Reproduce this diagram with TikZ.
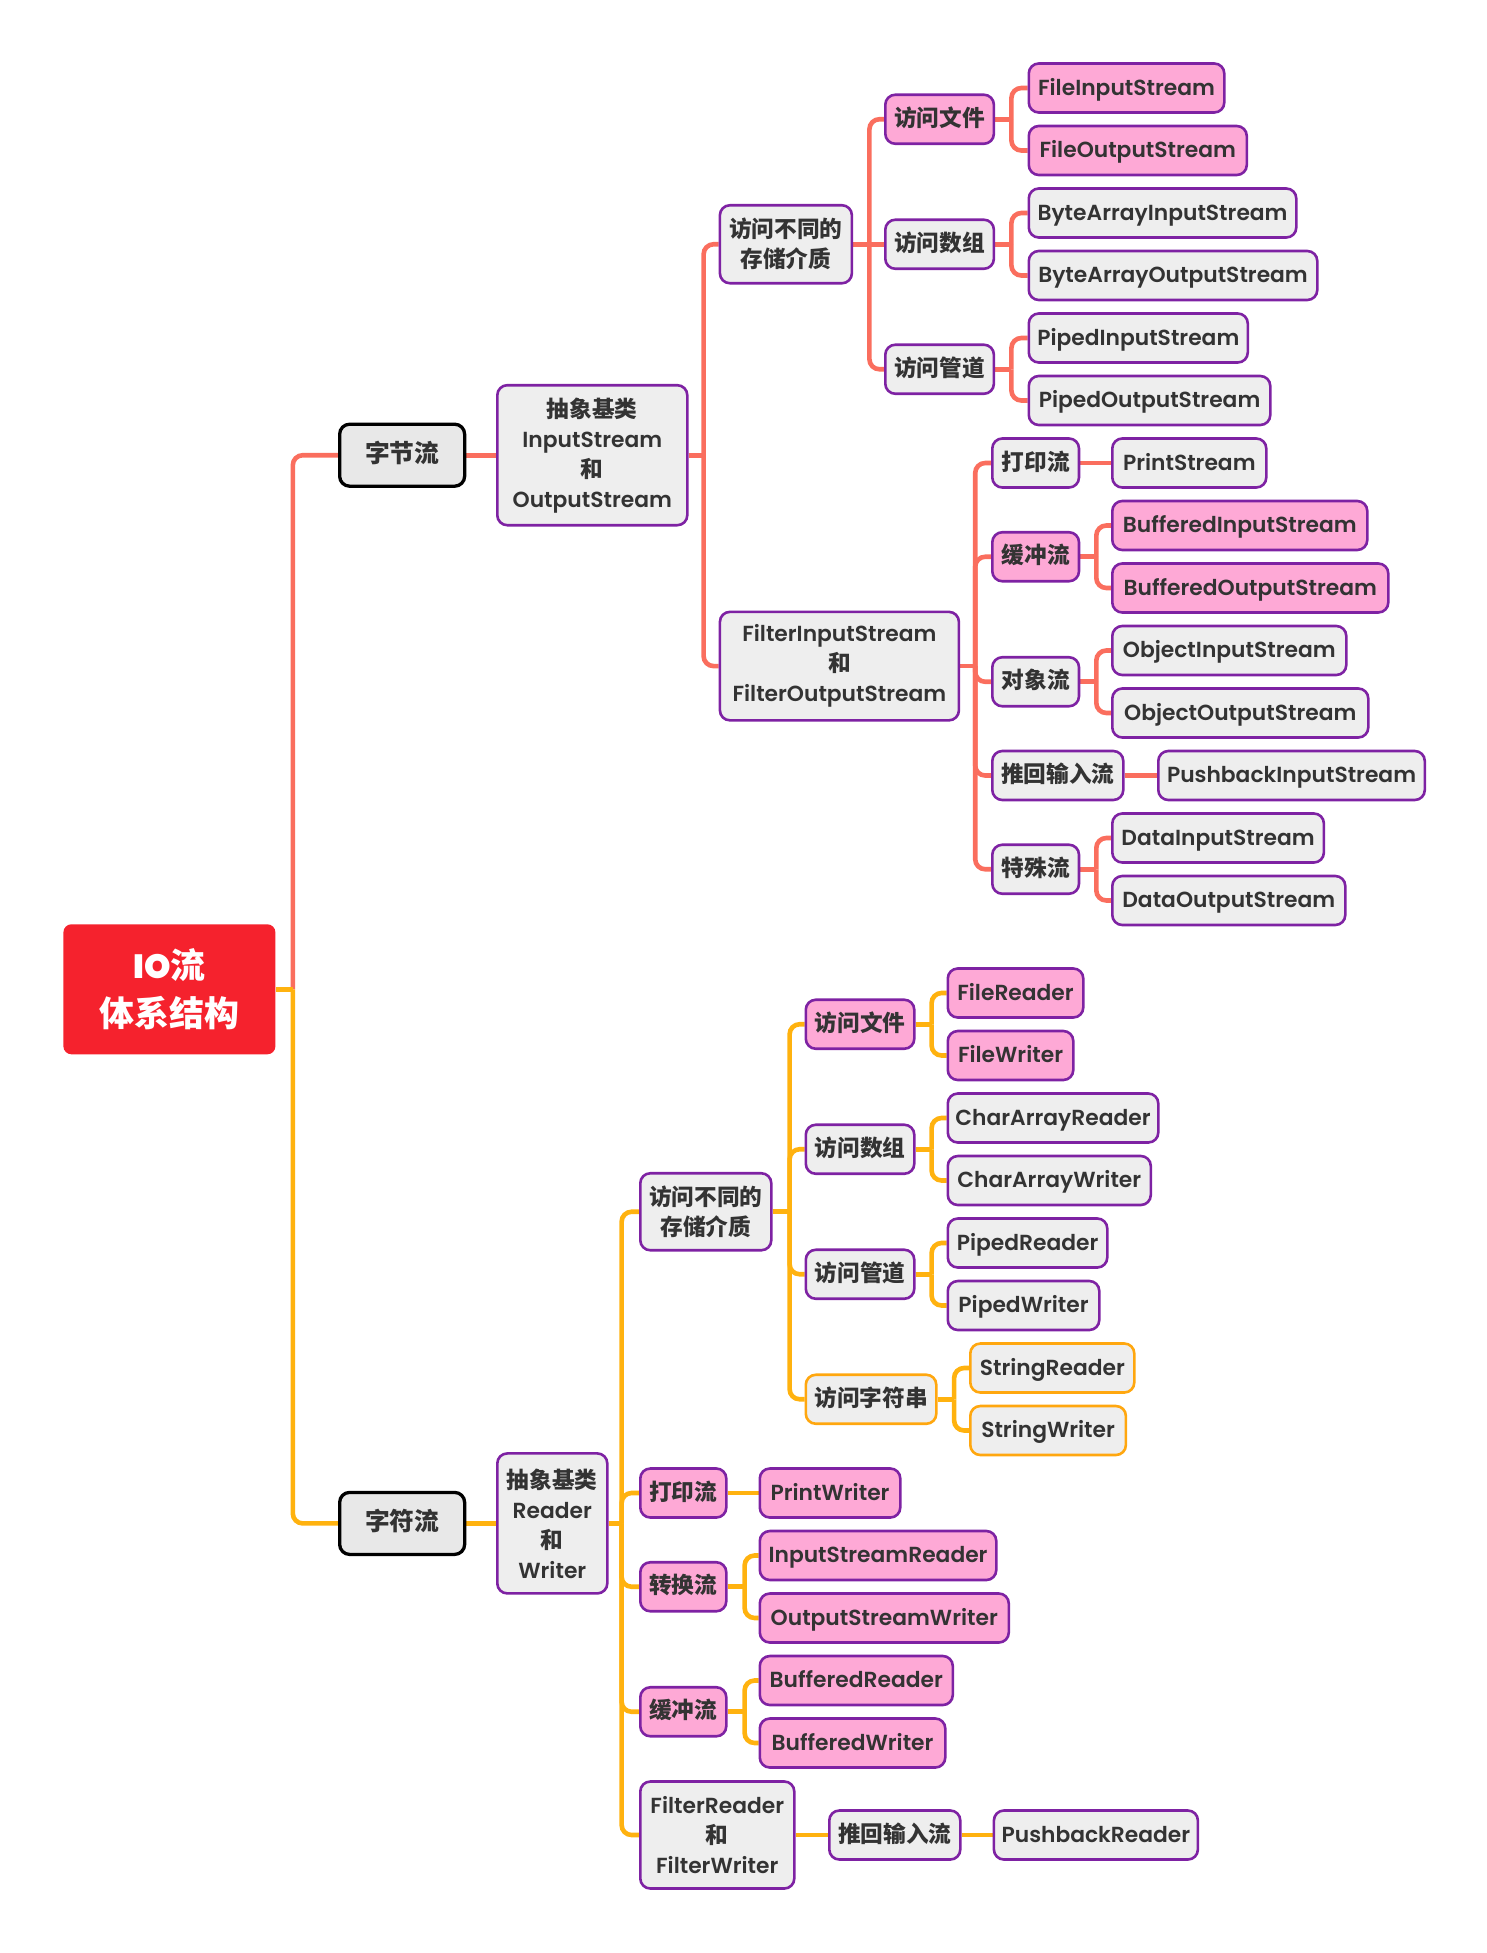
\documentclass[tikz,border=0pt]{standalone}
\usepackage{fontspec}
\setmainfont{Poppins}[UprightFont={* SemiBold}]
\newfontfamily\cjk{Noto Sans CJK SC}[Scale=1.04]
\usetikzlibrary{backgrounds}
\newcommand\zh[1]{{\cjk\bfseries #1}}
\definecolor{lineR}{HTML}{FA6E5E}
\definecolor{lineO}{HTML}{FFB20F}
\definecolor{rootR}{HTML}{F5222D}
\definecolor{pinkF}{HTML}{FEA9D6}
\definecolor{grayF}{HTML}{EEEEEE}
\definecolor{grayE}{HTML}{E8E8E8}
\definecolor{purp}{HTML}{7E22A3}
\definecolor{txt}{HTML}{333333}
\definecolor{oBord}{HTML}{FFA70F}
\newcommand\jn[4]{\draw[#1] (#2.east) -- ++(#3,0);\draw[#1,rounded corners=5pt] (#2.east) ++(#3,0) |- (#4.west);}
\begin{document}
\begin{tikzpicture}[x=0.5pt,y=-0.5pt,
 nb/.style={draw=purp,line width=1.3pt,rounded corners=5pt,fill=grayF,text=txt,inner sep=0pt,minimum height=24.5pt,align=center,anchor=west,font=\fontsize{10.9}{15}\selectfont},
 one/.style={text height=9.2pt,text depth=2pt},
 gb/.style={nb,one},
 pb/.style={nb,one,fill=pinkF},
 ob/.style={nb,one,draw=oBord},
 tb/.style={nb,one,draw=black,line width=1.65pt,fill=grayE,minimum width=62.5pt,minimum height=31pt,font=\fontsize{11.9}{15}\selectfont},
 lr/.style={draw=lineR,line width=2.3pt},
 lo/.style={draw=lineO,line width=2.3pt}]
\useasboundingbox (0,0) rectangle (1487,1953);
% root
\node[fill=rootR,rounded corners=4pt,text=white,inner sep=0pt,minimum width=106pt,minimum height=65pt,align=center,anchor=west,font=\fontsize{16.8}{24}\selectfont\bfseries] (root) at (63,989.3) {IO\zh{流}\\\zh{体系结构}};
% byte streams
\node[tb] (zjl) at (338,455.2) {\zh{字节流}};
\node[nb,minimum width=95pt,minimum height=70pt] (absI) at (496,455.2) {\zh{抽象基类}\\InputStream\\\zh{和}\\OutputStream};
\node[nb,minimum width=66pt,minimum height=39pt] (accU) at (718.6,244.25) {\zh{访问不同的}\\\zh{存储介质}};
\node[pb,minimum width=54.3pt] (fileU) at (884,119.25) {\zh{访问文件}};
\node[gb,minimum width=54.3pt] (arrU) at (884,244.25) {\zh{访问数组}};
\node[gb,minimum width=54.3pt] (pipeU) at (884,369.25) {\zh{访问管道}};
\node[pb,minimum width=97.75pt] (FIS) at (1027.5,88) {FileInputStream};
\node[pb,minimum width=109pt] (FOS) at (1027.5,150.5) {FileOutputStream};
\node[gb,minimum width=133.75pt] (BAIS) at (1027.5,213) {ByteArrayInputStream};
\node[gb,minimum width=144.25pt] (BAOS) at (1027.5,275.5) {ByteArrayOutputStream};
\node[gb,minimum width=109.5pt] (PIS) at (1027.5,338) {PipedInputStream};
\node[gb,minimum width=120.75pt] (POS) at (1027.5,400.5) {PipedOutputStream};
\node[nb,minimum width=119.5pt,minimum height=54.25pt] (filtU) at (718.6,666.1) {FilterInputStream\\\zh{和}\\FilterOutputStream};
\node[gb,minimum width=43.35pt] (prtU) at (991,463) {\zh{打印流}};
\node[gb,minimum width=77pt] (PS) at (1111,463) {PrintStream};
\node[pb,minimum width=43.35pt] (bufU) at (991,556.75) {\zh{缓冲流}};
\node[pb,minimum width=127.5pt] (BIS) at (1111,525.5) {BufferedInputStream};
\node[pb,minimum width=138pt] (BOS) at (1111,588) {BufferedOutputStream};
\node[gb,minimum width=43.35pt] (objU) at (991,681.75) {\zh{对象流}};
\node[gb,minimum width=117pt] (OIS) at (1111,650.5) {ObjectInputStream};
\node[gb,minimum width=128pt] (OOS) at (1111,713) {ObjectOutputStream};
\node[gb,minimum width=65.5pt] (pbU) at (991,775.5) {\zh{推回输入流}};
\node[gb,minimum width=133.25pt] (PBIS) at (1157,775.5) {PushbackInputStream};
\node[gb,minimum width=43.35pt] (spU) at (991,869.25) {\zh{特殊流}};
\node[gb,minimum width=105.8pt] (DIS) at (1111,838) {DataInputStream};
\node[gb,minimum width=116.5pt] (DOS) at (1111,900.5) {DataOutputStream};
% char streams
\node[tb] (zfl) at (338,1523.4) {\zh{字符流}};
\node[nb,minimum width=55pt,minimum height=70pt] (absR) at (496,1523.4) {\zh{抽象基类}\\Reader\\\zh{和}\\Writer};
\node[nb,minimum width=65.5pt,minimum height=38.5pt] (accL) at (639,1211.75) {\zh{访问不同的}\\\zh{存储介质}};
\node[pb,minimum width=43pt] (prtL) at (639,1493) {\zh{打印流}};
\node[pb,minimum width=43pt] (cvtL) at (639,1586.75) {\zh{转换流}};
\node[pb,minimum width=43pt] (bufL) at (639,1711.75) {\zh{缓冲流}};
\node[nb,minimum width=77pt,minimum height=53.5pt] (filtL) at (639,1835) {FilterReader\\\zh{和}\\FilterWriter};
\node[pb,minimum width=54.25pt] (fileL) at (804.5,1024.25) {\zh{访问文件}};
\node[gb,minimum width=54.25pt] (arrL) at (804.5,1149.25) {\zh{访问数组}};
\node[gb,minimum width=54.25pt] (pipeL) at (804.5,1274.25) {\zh{访问管道}};
\node[ob,minimum width=65.25pt] (strL) at (804.5,1399.25) {\zh{访问字符串}};
\node[pb,minimum width=67.75pt] (FR) at (946.5,993) {FileReader};
\node[pb,minimum width=62.75pt] (FW) at (946.5,1055.5) {FileWriter};
\node[gb,minimum width=105.25pt] (CAR) at (946.5,1118) {CharArrayReader};
\node[gb,minimum width=101.5pt] (CAW) at (946.5,1180.5) {CharArrayWriter};
\node[gb,minimum width=79.75pt] (PR) at (946.5,1243) {PipedReader};
\node[gb,minimum width=75.75pt] (PW) at (946.5,1305.5) {PipedWriter};
\node[ob,minimum width=82pt] (SR) at (969,1368) {StringReader};
\node[ob,minimum width=77.8pt] (SW) at (969,1430.5) {StringWriter};
\node[pb,minimum width=70.25pt] (PWr) at (758.5,1493) {PrintWriter};
\node[pb,minimum width=118.25pt] (ISR) at (758.5,1555.5) {InputStreamReader};
\node[pb,minimum width=124.5pt] (OSW) at (758.5,1618) {OutputStreamWriter};
\node[pb,minimum width=96.5pt] (BR) at (758.5,1680.5) {BufferedReader};
\node[pb,minimum width=92.75pt] (BW) at (758.5,1743) {BufferedWriter};
\node[gb,minimum width=65.5pt] (pbL) at (828,1835) {\zh{推回输入流}};
\node[gb,minimum width=102pt] (PBR) at (992.6,1835) {PushbackReader};
\begin{pgfonlayer}{background}
\jn{lr}{root}{17}{zjl}
\draw[lr] (zjl.east) -- (absI.west);
\jn{lr}{absI}{15}{accU}
\jn{lr}{absI}{15}{filtU}
\jn{lr}{accU}{16.2}{fileU}
\draw[lr] (accU.east) -- (arrU.west);
\jn{lr}{accU}{16.2}{pipeU}
\jn{lr}{fileU}{16.2}{FIS}
\jn{lr}{fileU}{16.2}{FOS}
\jn{lr}{arrU}{16.2}{BAIS}
\jn{lr}{arrU}{16.2}{BAOS}
\jn{lr}{pipeU}{16.2}{PIS}
\jn{lr}{pipeU}{16.2}{POS}
\jn{lr}{filtU}{15}{prtU}
\jn{lr}{filtU}{15}{bufU}
\jn{lr}{filtU}{15}{objU}
\jn{lr}{filtU}{15}{pbU}
\jn{lr}{filtU}{15}{spU}
\draw[lr] (prtU.east) -- (PS.west);
\jn{lr}{bufU}{16}{BIS}
\jn{lr}{bufU}{16}{BOS}
\jn{lr}{objU}{16}{OIS}
\jn{lr}{objU}{16}{OOS}
\draw[lr] (pbU.east) -- (PBIS.west);
\jn{lr}{spU}{16}{DIS}
\jn{lr}{spU}{16}{DOS}
\jn{lo}{root}{17}{zfl}
\draw[lo] (zfl.east) -- (absR.west);
\jn{lo}{absR}{13}{accL}
\jn{lo}{absR}{13}{prtL}
\jn{lo}{absR}{13}{cvtL}
\jn{lo}{absR}{13}{bufL}
\jn{lo}{absR}{13}{filtL}
\jn{lo}{accL}{17}{fileL}
\jn{lo}{accL}{17}{arrL}
\jn{lo}{accL}{17}{pipeL}
\jn{lo}{accL}{17}{strL}
\jn{lo}{fileL}{16}{FR}
\jn{lo}{fileL}{16}{FW}
\jn{lo}{arrL}{16}{CAR}
\jn{lo}{arrL}{16}{CAW}
\jn{lo}{pipeL}{16}{PR}
\jn{lo}{pipeL}{16}{PW}
\jn{lo}{strL}{16.5}{SR}
\jn{lo}{strL}{16.5}{SW}
\draw[lo] (prtL.east) -- (PWr.west);
\jn{lo}{cvtL}{17}{ISR}
\jn{lo}{cvtL}{17}{OSW}
\jn{lo}{bufL}{17}{BR}
\jn{lo}{bufL}{17}{BW}
\draw[lo] (filtL.east) -- (pbL.west);
\draw[lo] (pbL.east) -- (PBR.west);
\end{pgfonlayer}
\end{tikzpicture}
\end{document}
